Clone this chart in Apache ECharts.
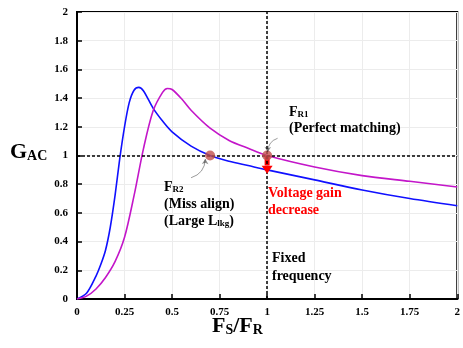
<!DOCTYPE html>
<html>
<head>
<meta charset="utf-8">
<script src="https://cdn.jsdelivr.net/npm/echarts@6/dist/echarts.min.js"></script>
<style>
  html, body { margin: 0; padding: 0; background: #fff; }
  #chart { width: 463px; height: 348px; }
</style>
</head>
<body>
<div id="chart"></div>
<script>
// curve readings (Fs/Fr, Gac)
const blueX = [0, 0.05, 0.1, 0.125, 0.15, 0.175, 0.2, 0.225, 0.25, 0.275, 0.3, 0.325, 0.35, 0.4, 0.45, 0.5, 0.6, 0.7, 0.8, 0.9, 1.0, 1.25, 1.5, 1.75, 2.0];
const blueY = [0, 0.04, 0.16, 0.24, 0.34, 0.5, 0.72, 0.98, 1.2, 1.37, 1.455, 1.475, 1.45, 1.33, 1.24, 1.165, 1.065, 1.0, 0.96, 0.93, 0.9, 0.83, 0.76, 0.7, 0.65];
const magX = [0, 0.05, 0.1, 0.15, 0.2, 0.25, 0.3, 0.35, 0.4, 0.45, 0.475, 0.5, 0.55, 0.6, 0.7, 0.8, 0.9, 1.0, 1.25, 1.5, 1.75, 2.0];
const magY = [0, 0.02, 0.07, 0.15, 0.26, 0.43, 0.72, 1.05, 1.31, 1.44, 1.467, 1.46, 1.395, 1.315, 1.19, 1.105, 1.05, 1.0, 0.92, 0.86, 0.82, 0.78];
const resonancePts = [[0.7, 1.0], [1.0, 1.0]];
const gainDrop = [[1.0, 1.0], [1.0, 0.93]];
const xTicks = [0, 0.25, 0.5, 0.75, 1, 1.25, 1.5, 1.75, 2];

const FONT = '"Liberation Serif", "DejaVu Serif", serif';
const zip = (xs, ys) => xs.map((x, i) => [x, ys[i]]);

const chart = echarts.init(document.getElementById('chart'));

const axisCommon = {
    axisLine: { show: true, lineStyle: { color: '#000', width: 2 } },
    axisTick: { show: true, inside: true, length: 5, lineStyle: { color: '#000', width: 1.5 } },
    splitLine: { show: true, lineStyle: { color: '#ececec', width: 1 } },
    axisLabel: { color: '#000', fontFamily: FONT, fontWeight: 'bold', fontSize: 11 }
};

const sub = { fontFamily: FONT, fontWeight: 'bold', fontSize: 9, fill: '#000', padding: [5, 0, 0, 0] };

const option = {
    animation: false,
    grid: { left: 77, right: 2, top: 12, bottom: 49, show: true, borderColor: '#000', borderWidth: 2 },
    xAxis: Object.assign({}, axisCommon, {
        type: 'value', min: 0, max: 2, interval: 0.25,
        axisLabel: Object.assign({}, axisCommon.axisLabel, {
            margin: 8,
            formatter: v => xTicks.indexOf(v) >= 0 ? String(v) : ''
        })
    }),
    yAxis: Object.assign({}, axisCommon, {
        type: 'value', min: 0, max: 2, interval: 0.2,
        axisLabel: Object.assign({}, axisCommon.axisLabel, {
            margin: 9,
            formatter: v => String(+v.toFixed(1))
        })
    }),
    series: [
        {
            type: 'line', data: zip(blueX, blueY), smooth: 0.3, showSymbol: false,
            lineStyle: { color: '#1010ff', width: 1.6 }, z: 3,
            markLine: {
                silent: true, symbol: 'none', label: { show: false },
                lineStyle: { color: '#000', type: [3, 2], width: 1.5 },
                data: [{ yAxis: 1 }, { xAxis: 1 }]
            }
        },
        {
            type: 'line', data: zip(magX, magY), smooth: 0.3, showSymbol: false,
            lineStyle: { color: '#c316c9', width: 1.6 }, z: 3
        },
        {
            type: 'line', data: gainDrop, showSymbol: false, z: 4,
            lineStyle: { color: '#ff0000', width: 5 },
            markLine: {
                silent: true, symbol: ['none', 'triangle'], symbolSize: [11, 8], symbolRotate: 180,
                label: { show: false },
                lineStyle: { color: '#ff0000', width: 0.1, type: 'solid' },
                data: [[{ coord: [1.0, 0.95] }, { coord: [1.0, 0.9] }]]
            }
        },
        {
            type: 'scatter', data: resonancePts, symbolSize: 10, z: 5,
            itemStyle: { color: '#c0504d' }
        },
        {
            type: 'lines', coordinateSystem: 'cartesian2d', z: 6,
            symbol: ['none', 'arrow'], symbolSize: 5,
            lineStyle: { color: '#222', width: 0.9, curveness: -0.35 },
            data: [
                { coords: [[0.6, 0.845], [0.675, 0.975]] },
                { coords: [[1.055, 1.12], [1.003, 1.025]] }
            ]
        }
    ],
    graphic: [
        {
            type: 'text', left: 10, top: 141, z: 100,
            style: {
                text: '{b|G}{s|AC}',
                rich: {
                    b: { fontFamily: FONT, fontWeight: 'bold', fontSize: 22, fill: '#000' },
                    s: { fontFamily: FONT, fontWeight: 'bold', fontSize: 14, fill: '#000', padding: [8, 0, 0, 0] }
                }
            }
        },
        {
            type: 'text', left: 212, top: 315, z: 100,
            style: {
                text: '{b|F}{s|S}{b|/F}{s|R}',
                rich: {
                    b: { fontFamily: FONT, fontWeight: 'bold', fontSize: 22, fill: '#000' },
                    s: { fontFamily: FONT, fontWeight: 'bold', fontSize: 14, fill: '#000', padding: [8, 0, 0, 0] }
                }
            }
        },
        {
            type: 'text', left: 289, top: 105, z: 100,
            style: {
                text: '{b|F}{s|R1}\n{b|(Perfect matching)}',
                rich: {
                    b: { fontFamily: FONT, fontWeight: 'bold', fontSize: 14, fill: '#000', lineHeight: 16 },
                    s: Object.assign({ lineHeight: 16 }, sub)
                }
            }
        },
        {
            type: 'text', left: 164, top: 180, z: 100,
            style: {
                text: '{b|F}{s|R2}\n{b|(Miss align)}\n{b|(Large L}{s|lkg}{b|)}',
                rich: {
                    b: { fontFamily: FONT, fontWeight: 'bold', fontSize: 14, fill: '#000', lineHeight: 17 },
                    s: Object.assign({ lineHeight: 17 }, sub)
                }
            }
        },
        {
            type: 'text', left: 268, top: 185, z: 100,
            style: {
                text: 'Voltage gain\ndecrease', fontFamily: FONT, fontWeight: 'bold',
                fontSize: 14, fill: '#ff0000', lineHeight: 17
            }
        },
        {
            type: 'text', left: 272, top: 249, z: 100,
            style: {
                text: 'Fixed\nfrequency', fontFamily: FONT, fontWeight: 'bold',
                fontSize: 14, fill: '#000', lineHeight: 18
            }
        }
    ]
};

chart.setOption(option);
</script>
</body>
</html>
